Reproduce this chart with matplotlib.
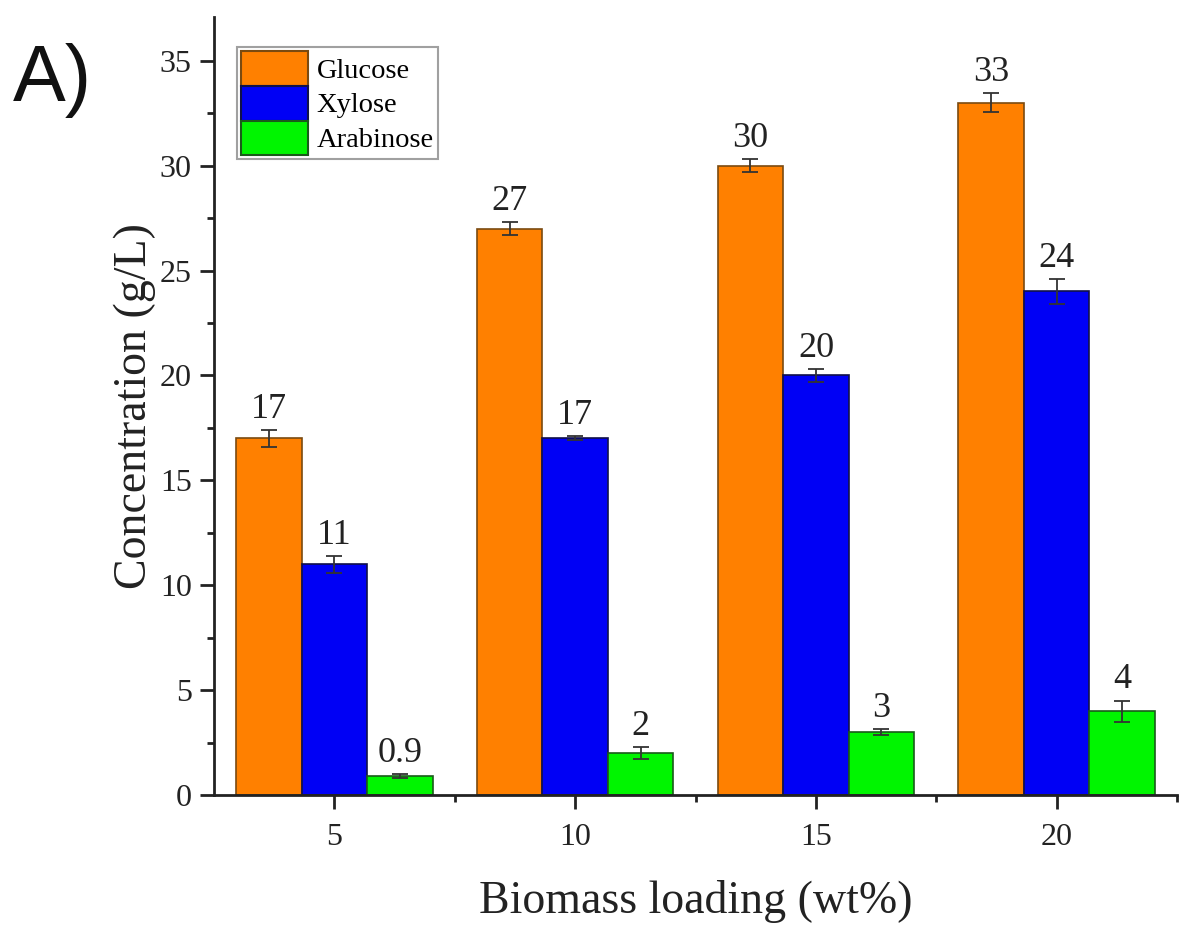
import matplotlib
matplotlib.use("Agg")
import matplotlib.pyplot as plt
import numpy as np

# Sugar concentrations after hydrolysis at different biomass loadings
loadings = [5, 10, 15, 20]
series_names = ["Glucose", "Xylose", "Arabinose"]
glucose = [17, 27, 30, 33]
xylose = [11, 17, 20, 24]
arabinose = [0.9, 2, 3, 4]
glucose_err = [0.4, 0.3, 0.3, 0.45]
xylose_err = [0.4, 0.1, 0.3, 0.6]
arabinose_err = [0.1, 0.3, 0.15, 0.5]
value_labels = [["17", "27", "30", "33"],
                ["11", "17", "20", "24"],
                ["0.9", "2", "3", "4"]]

colors = ["#FF8000", "#0000F5", "#00F500"]
edges = ["#7a4a10", "#10104a", "#1a5a1a"]

plt.rcParams["font.family"] = ["Liberation Serif", "DejaVu Serif"]

fig = plt.figure(figsize=(11.81, 9.26), dpi=100)
ax = fig.add_axes([0.1812, 0.1415, 0.8155, 0.8405])

width = 1.36
offsets = [-width, 0.0, width]
values = [glucose, xylose, arabinose]
errors = [glucose_err, xylose_err, arabinose_err]
x = np.array(loadings, dtype=float)

for vals, errs, off, col, ec, name, labs in zip(values, errors, offsets, colors,
                                                 edges, series_names, value_labels):
    ax.bar(x + off, vals, width=width, color=col, edgecolor=ec, linewidth=1.2,
           label=name, zorder=2)
    ax.errorbar(x + off, vals, yerr=errs, fmt="none", ecolor="#333333",
                elinewidth=1.3, capsize=5.5, capthick=1.3, zorder=3)
    for xi, v, e, t in zip(x + off, vals, errs, labs):
        ax.annotate(t, (xi, v + e), xytext=(0, 3), textcoords="offset points",
                    ha="center", va="bottom", fontsize=26, color="#222222")

ax.set_xlim(2.5, 22.5)
ax.set_ylim(0, 37.1)
ax.set_xticks(loadings)
ax.set_xticks([7.5, 12.5, 17.5, 22.5], minor=True)
ax.set_yticks(np.arange(0, 36, 5))
ax.set_yticks(np.arange(2.5, 36, 5), minor=True)

for side in ["top", "right"]:
    ax.spines[side].set_visible(False)
for side in ["left", "bottom"]:
    ax.spines[side].set_linewidth(2)
    ax.spines[side].set_color("#222222")

ax.tick_params(axis="both", which="major", direction="out", length=10, width=2,
               labelsize=23, colors="#222222")
ax.tick_params(axis="y", which="major", pad=6)
ax.tick_params(axis="x", which="major", pad=10)
ax.tick_params(axis="both", which="minor", direction="out", length=5, width=2,
               colors="#222222")

ax.set_xlabel("Biomass loading (wt%)", fontsize=33, color="#222222", labelpad=20)
ax.set_ylabel("Concentration (g/L)", fontsize=33, color="#222222", labelpad=3)

# stacked, touching colour swatches
leg = ax.legend(loc="upper left", bbox_to_anchor=(0.0239, 0.9614), fontsize=20.5,
                frameon=True, fancybox=False, edgecolor="#888888",
                handlelength=2.35, handleheight=1.51, labelspacing=0.0,
                handletextpad=0.3, borderpad=0.14, borderaxespad=0.0)
leg.get_frame().set_linewidth(1.5)
for h in leg.legend_handles:
    h.set_linewidth(1.5)

fig.text(0.011, 0.913, "A)", fontsize=57, family=["Liberation Sans", "DejaVu Sans"],
         color="#111111", ha="left", va="center")

fig.savefig("out.png", dpi=100, facecolor="white")
